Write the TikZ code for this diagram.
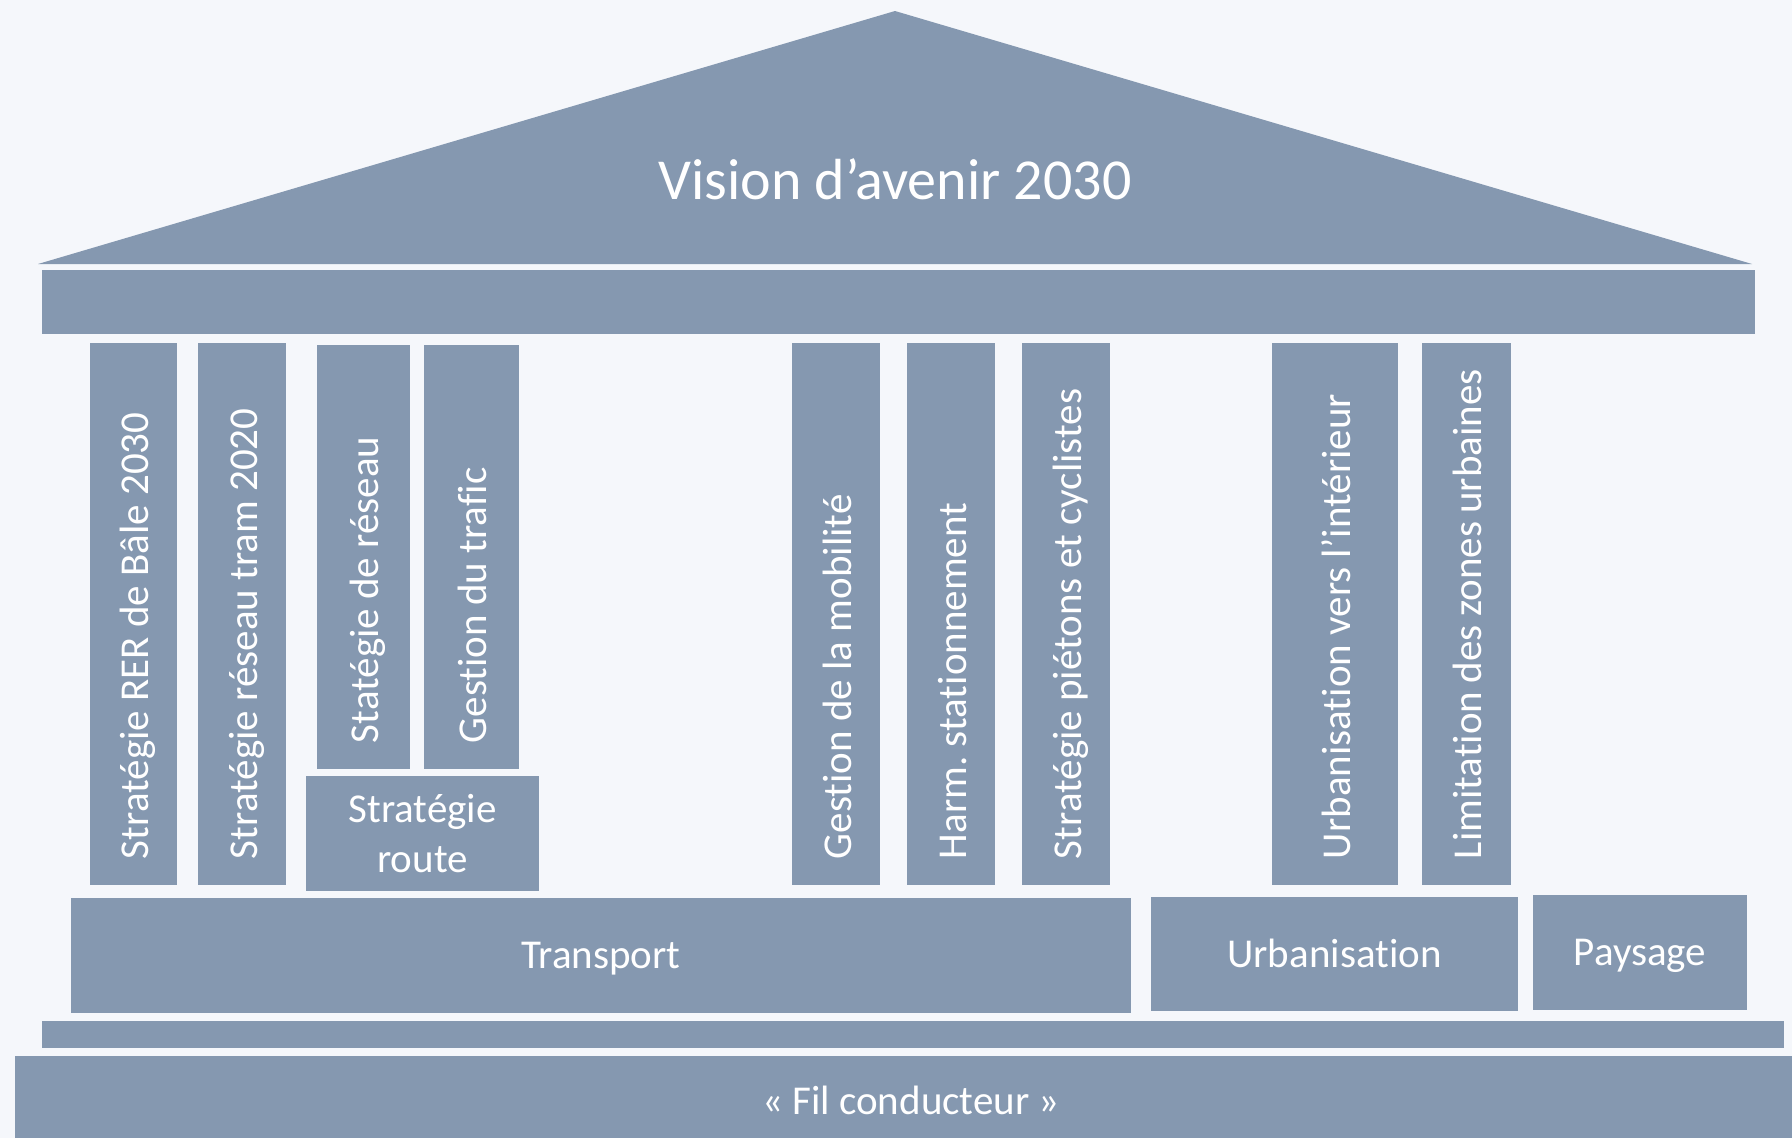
\documentclass[tikz,border=0pt]{standalone}
\usepackage{fontspec}
\setmainfont{Carlito}[Ligatures = NoCommon]
\usepackage{tikz}
\definecolor{slate}{HTML}{8598B0}
\definecolor{paper}{HTML}{F5F7FB}
\frenchspacing
\hyphenpenalty = 10000

\begin{document}
\begin{tikzpicture}[x = 1pt, y = -1pt,
  block/.style = {fill = slate, draw = none, text = white, inner sep = 0pt,
    font = \fontsize{41}{50}\selectfont, align = center},
  tag/.style = {block, text height = 26pt, text depth = 0pt},
  pillar/.style = {tag, text height = 30pt, rotate = 90, inner xsep = 26pt, align = flush left}]
\useasboundingbox[fill = paper] (0,0) rectangle (1792,1138);
% roof
\fill[slate] (38,264) -- (895,11) -- (1752,264) -- cycle;
\node[text = white, font = \fontsize{58}{70}\selectfont, anchor = base] (vision) at (895,199) {Vision d’avenir 2030};
\node[block, minimum width = 1713pt, minimum height = 64pt] (beam) at (898.5,302) {};
% pillars
\node[pillar, text width = 490pt, minimum height = 87pt] (rer) at (133.5,614) {Stratégie RER de Bâle 2030};
\node[pillar, text width = 490pt, minimum height = 88pt] (tram) at (242,614) {Stratégie réseau tram 2020};
\node[pillar, text width = 372pt, minimum height = 93pt] (reseau) at (363.5,557) {Statégie de réseau};
\node[pillar, text width = 372pt, minimum height = 95pt] (trafic) at (471.5,557) {Gestion du trafic};
\node[block, minimum width = 233pt, minimum height = 115pt] (route) at (422.5,833.5) {Stratégie\\route};
\node[pillar, text width = 490pt, minimum height = 88pt] (mobil) at (836,614) {Gestion de la mobilité};
\node[pillar, text width = 490pt, minimum height = 88pt] (station) at (951,614) {Harm. stationnement};
\node[pillar, text width = 490pt, minimum height = 88pt] (pietons) at (1066,614) {Stratégie piétons et cyclistes};
\node[pillar, text width = 490pt, minimum height = 126pt] (interieur) at (1335,614) {Urbanisation vers l’intérieur};
\node[pillar, text width = 490pt, minimum height = 89pt] (limit) at (1466.5,614) {Limitation des zones urbaines};
% plinth
\node[tag, minimum width = 1060pt, minimum height = 115pt] (transport) at (601,955.5) {Transport};
\node[tag, minimum width = 367pt, minimum height = 114pt] (urba) at (1334.5,954) {Urbanisation};
\node[tag, minimum width = 214pt, minimum height = 115pt] (paysage) at (1640,952.5) {Paysage};
\node[block, minimum width = 1742pt, minimum height = 27pt] (step) at (913,1034.5) {};
\node[tag, text height = 34pt, minimum width = 1792pt, minimum height = 82pt] (fil) at (911,1097) {« Fil conducteur »};
\end{tikzpicture}
\end{document}
